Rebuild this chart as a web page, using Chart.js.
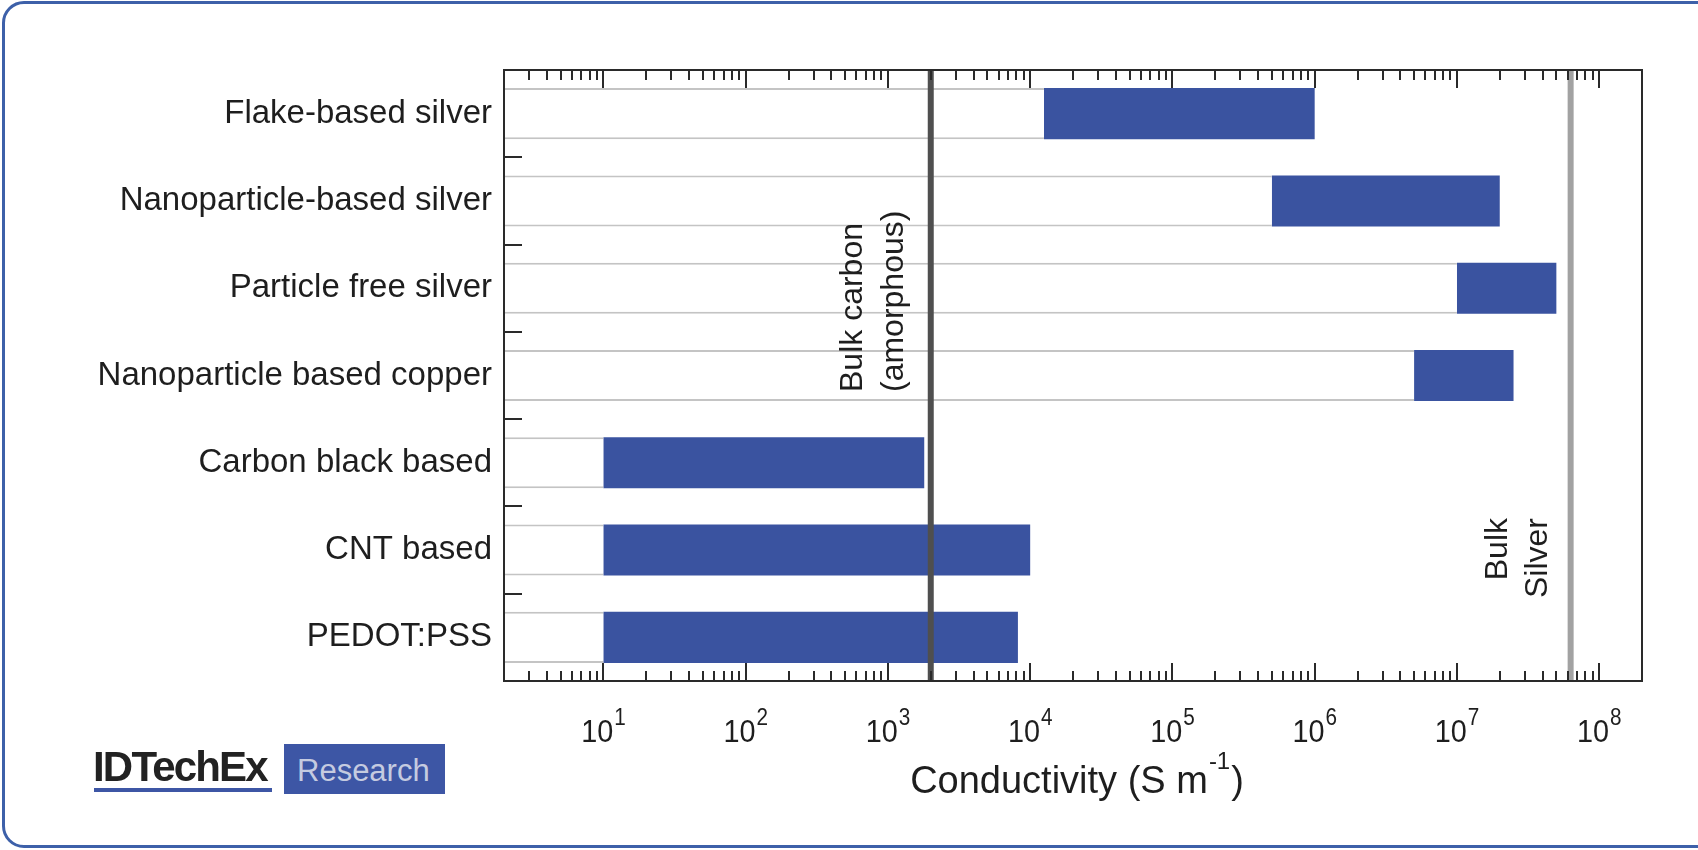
<!DOCTYPE html>
<html>
<head>
<meta charset="utf-8">
<title>Conductivity of printed conductive inks</title>
<script src="https://cdn.jsdelivr.net/npm/chart.js@4.4.1/dist/chart.umd.min.js"></script>
<style>
  html, body { margin: 0; padding: 0; background: #fff; }
  #wrap { position: relative; width: 1698px; height: 850px; overflow: hidden; font-family: "Liberation Sans", Arial, sans-serif; }
  #frame { position: absolute; left: 2px; top: 1px; width: 1740px; height: 841px; border: 3px solid #3d60a9; border-radius: 22px; }
  #brand { position: absolute; left: 93px; top: 746px; font-size: 42px; line-height: 42px; font-weight: bold; letter-spacing: -1.8px; color: #222; }
  #brandLine { position: absolute; left: 94px; top: 788px; width: 178px; height: 4px; background: #3d56a5; }
  #research { position: absolute; left: 284px; top: 744px; width: 161px; height: 50px; background: #3d56a5; }
  #research span { position: absolute; left: 13px; top: 11px; font-size: 31px; line-height: 31px; color: #c5cbe0; }
  canvas { position: absolute; left: 0; top: 0; }
</style>
</head>
<body>
<div id="wrap">
  <div id="frame"></div>
  <canvas id="myChart" width="1698" height="850"></canvas>
  <div id="brand">IDTechEx</div>
  <div id="brandLine"></div>
  <div id="research"><span>Research</span></div>
</div>
<script>
// Chart data (conductivity ranges in S/m)
const categories = ['Flake-based silver', 'Nanoparticle-based silver', 'Particle free silver',
  'Nanoparticle based copper', 'Carbon black based', 'CNT based', 'PEDOT:PSS'];
const lowValues = [1.25e4, 5e5, 1e7, 5e6, 10, 10, 10];
const highValues = [1e6, 2e7, 5e7, 2.5e7, 1.8e3, 1e4, 8.2e3];

// reference materials drawn as vertical lines
const refValues = [2e3, 6.3e7];
const refLabels = [['Bulk carbon', '(amorphous)'], ['Bulk', 'Silver']];

// x axis range and the decades that get a label
const axisMin = 2;
const axisMax = 2e8;
const decadeExponents = [1, 2, 3, 4, 5, 6, 7, 8];

const textColor = '#1e1e1e';
const fontName = '"Liberation Sans", Arial, sans-serif';

// draws the frame, log ticks, tick labels, axis title and the reference lines
const overlayPlugin = {
  id: 'overlay',
  afterDatasetsDraw(chart) {
    const ctx = chart.ctx;
    const a = chart.chartArea;
    const x = chart.scales.x;
    const y = chart.scales.y;
    ctx.save();

    // reference lines
    const refColors = ['#4f4f4f', '#a2a2a2'];
    refValues.forEach((v, i) => {
      const px = x.getPixelForValue(v);
      ctx.strokeStyle = refColors[i];
      ctx.lineWidth = 6;
      ctx.beginPath();
      ctx.moveTo(px, a.top);
      ctx.lineTo(px, a.bottom);
      ctx.stroke();
    });

    // log ticks, top and bottom, pointing inwards
    ctx.strokeStyle = '#2a2a2a';
    ctx.lineWidth = 2;
    for (let e = 0; e <= 8; e++) {
      for (let m = 1; m <= 9; m++) {
        const v = m * Math.pow(10, e);
        if (v <= axisMin || v >= axisMax) continue;
        const px = Math.round(x.getPixelForValue(v));
        const len = m === 1 ? 18 : 10;
        ctx.beginPath();
        ctx.moveTo(px, a.bottom);
        ctx.lineTo(px, a.bottom - len);
        ctx.moveTo(px, a.top);
        ctx.lineTo(px, a.top + len);
        ctx.stroke();
      }
    }

    // small ticks between categories on the left side
    for (let i = 0; i < categories.length - 1; i++) {
      const py = Math.round((y.getPixelForValue(i) + y.getPixelForValue(i + 1)) / 2);
      ctx.beginPath();
      ctx.moveTo(a.left, py);
      ctx.lineTo(a.left + 18, py);
      ctx.stroke();
    }

    // plot frame
    ctx.strokeRect(a.left, a.top, a.right - a.left, a.bottom - a.top);

    // decade labels 10^n (a bit narrow, like the original lettering)
    ctx.fillStyle = textColor;
    ctx.textBaseline = 'alphabetic';
    ctx.textAlign = 'left';
    const sx = 0.9;
    decadeExponents.forEach(e => {
      const px = x.getPixelForValue(Math.pow(10, e));
      ctx.font = '32px ' + fontName;
      const w1 = ctx.measureText('10').width * sx;
      ctx.font = '23px ' + fontName;
      const w2 = ctx.measureText(String(e)).width * sx;
      const start = px - (w1 + 1 + w2) / 2;
      ctx.save();
      ctx.translate(start, a.bottom + 61);
      ctx.scale(sx, 1);
      ctx.font = '32px ' + fontName;
      ctx.fillText('10', 0, 0);
      ctx.restore();
      ctx.save();
      ctx.translate(start + w1 + 1, a.bottom + 44);
      ctx.scale(sx, 1);
      ctx.font = '23px ' + fontName;
      ctx.fillText(String(e), 0, 0);
      ctx.restore();
    });

    // axis title with superscript
    const t1 = 'Conductivity (S m', t2 = '-1', t3 = ')';
    ctx.font = '38px ' + fontName;
    const tw1 = ctx.measureText(t1).width;
    const tw3 = ctx.measureText(t3).width;
    ctx.font = '24px ' + fontName;
    const tw2 = ctx.measureText(t2).width;
    let tx = (a.left + a.right) / 2 + 4 - (tw1 + tw2 + tw3 + 2) / 2;
    ctx.font = '38px ' + fontName;
    ctx.fillText(t1, tx, a.bottom + 112);
    ctx.font = '24px ' + fontName;
    ctx.fillText(t2, tx + tw1 + 1, a.bottom + 88);
    ctx.font = '38px ' + fontName;
    ctx.fillText(t3, tx + tw1 + tw2 + 2, a.bottom + 112);

    // rotated labels next to the reference lines
    const labelOffsets = [[-78, -37], [-72, -32]];
    const labelAnchorY = [a.top + 322, a.top + 448];
    const labelAlign = ['left', 'right'];
    ctx.font = '32px ' + fontName;
    ctx.textBaseline = 'middle';
    refValues.forEach((v, i) => {
      const px = x.getPixelForValue(v);
      refLabels[i].forEach((txt, j) => {
        ctx.save();
        ctx.translate(px + labelOffsets[i][j], labelAnchorY[i]);
        ctx.rotate(-Math.PI / 2);
        ctx.textAlign = labelAlign[i];
        ctx.fillText(txt, 0, 0);
        ctx.restore();
      });
    });

    ctx.restore();
  }
};

const ctx = document.getElementById('myChart').getContext('2d');
new Chart(ctx, {
  type: 'bar',
  data: {
    labels: categories,
    datasets: [
      {
        // white band from the axis start to the beginning of each range
        label: 'base',
        data: lowValues.map(v => [axisMin, v]),
        backgroundColor: '#ffffff',
        borderColor: '#c4c4c4',
        borderWidth: { top: 2, bottom: 2, left: 0, right: 0 },
        borderSkipped: false,
        grouped: false,
        barPercentage: 0.585,
        categoryPercentage: 1
      },
      {
        label: 'Conductivity range',
        data: lowValues.map((v, i) => [v, highValues[i]]),
        backgroundColor: '#3a53a0',
        borderWidth: 0,
        grouped: false,
        barPercentage: 0.585,
        categoryPercentage: 1
      }
    ]
  },
  options: {
    indexAxis: 'y',
    responsive: false,
    animation: false,
    layout: { padding: { left: 0, right: 56, top: 70, bottom: 169 } },
    plugins: {
      legend: { display: false },
      tooltip: { enabled: false }
    },
    scales: {
      x: {
        type: 'logarithmic',
        min: axisMin,
        max: axisMax,
        display: false
      },
      y: {
        type: 'category',
        offset: true,
        grid: { display: false, drawTicks: false },
        border: { display: false },
        afterFit(scale) { scale.width = 504; },
        ticks: {
          autoSkip: false,
          padding: 12,
          color: textColor,
          font: { family: fontName, size: 33 }
        }
      }
    }
  },
  plugins: [overlayPlugin]
});
</script>
</body>
</html>
